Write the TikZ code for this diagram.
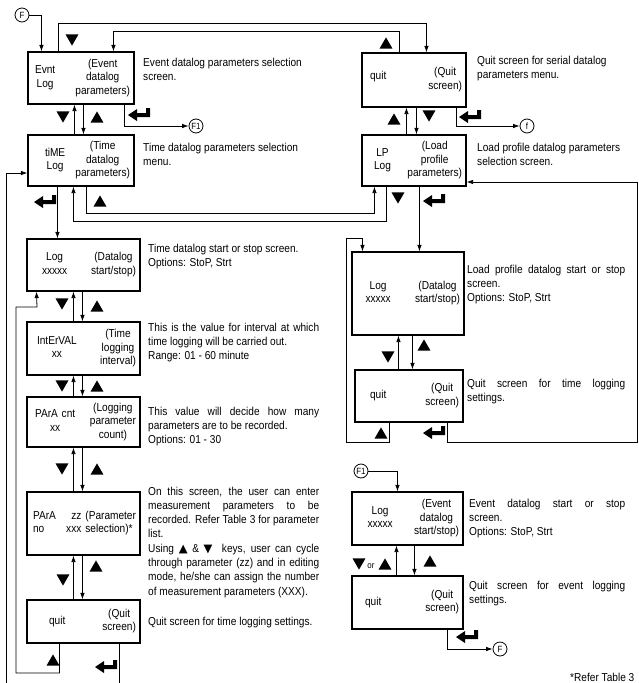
\documentclass[tikz,border=0pt]{standalone}
\usepackage{fontspec}
\setmainfont[FakeStretch=0.88]{Liberation Sans}
\newfontfamily\symfont{DejaVu Sans}
\usetikzlibrary{arrows.meta, shapes.geometric}
\renewcommand{\arraystretch}{0.94}
\newcommand{\scr}[4]{\hspace*{#1}\begin{tabular}{@{}c@{}}#2\end{tabular}\hfill\begin{tabular}{@{}c@{}}#3\end{tabular}\hspace*{#4}}

\tikzset{
  box/.style={draw, line width=1.1pt, inner xsep=4pt, inner ysep=0pt, text width=#1},
  desc/.style={anchor=base west, inner sep=0pt, text width=#1, align=justify},
  term/.style={draw, circle, line width=.8pt, inner sep=0pt, minimum size=14pt, font=\fontsize{9}{9}\selectfont},
  key/.style={regular polygon, regular polygon sides=3, fill, draw=none, inner sep=0pt, minimum size=15pt},
  kup/.style={key, yshift=-1.9pt},
  kdn/.style={key, shape border rotate=180, yshift=1.9pt},
  arr/.style={line width=.8pt, -{Latex[length=6.5pt,width=4.5pt]}},
  enterkey/.pic={\fill (-12,1) -- (-3,-5) -- (-3,-1) -- (6,-1) -- (6,-6) -- (10,-6) -- (10,3) -- (-3,3) -- (-3,7) -- cycle;}
}

\begin{document}
\begin{tikzpicture}[x=1pt, y=-1pt, font=\fontsize{11.5}{14.3}\selectfont]
\useasboundingbox (0,0) rectangle (638,683);

\node[box=98pt, minimum height=52pt] (evnt) at (81,78) {\scr{3pt}{Evnt\\Log}{(Event\\datalog\\parameters)}{0pt}};
\node[box=98pt, minimum height=51pt] (tim) at (81,160.5) {\scr{13pt}{tiME\\Log}{(Time\\datalog\\parameters)}{0pt}};
\node[box=96pt, minimum height=54pt] (quitA) at (414,80) {\scr{4pt}{\raisebox{6pt}{quit}}{(Quit\\screen)}{12pt}};
\node[box=96pt, minimum height=51pt] (lp) at (414,160.5) {\scr{8pt}{LP\\Log}{(Load\\profile\\parameters)}{0pt}};
\node[box=105pt, minimum height=52pt] (logT) at (83.5,265) {\scr{11pt}{Log\\xxxxx}{(Datalog\\start/stop)}{0pt}};
\node[box=105pt, minimum height=53pt] (intv) at (83.5,348.5) {\scr{6pt}{IntErVAL\\xx}{(Time\\logging\\interval)}{6pt}};
\node[box=105pt, minimum height=50pt] (pcnt) at (83.5,422) {\scr{4pt}{PArA cnt\\xx}{(Logging\\parameter\\count)}{0pt}};
\node[box=105pt, minimum height=63pt] (pno) at (83.5,523.5) {\hspace*{2pt}\begin{tabular}{@{}l@{}}PArA\\no\end{tabular}\hfill\begin{tabular}{@{}r@{}}zz\\xxx\end{tabular}\hspace{4pt}\begin{tabular}{@{}l@{}}(Parameter\\selection)*\end{tabular}};
\node[box=105pt, minimum height=43pt] (quitT) at (83.5,621.5) {\scr{18pt}{quit}{(Quit\\screen)}{10pt}};
\node[box=104pt, minimum height=83pt] (logL) at (408,293.5) {\scr{9.5pt}{Log\\xxxxx}{(Datalog\\start/stop)}{10pt}};
\node[box=100pt, minimum height=52pt] (quitL) at (409,396) {\scr{11pt}{quit}{(Quit\\screen)}{9pt}};
\node[box=103pt, minimum height=53pt] (logE) at (407.5,518.5) {\scr{11.5pt}{Log\\xxxxx}{(Event\\datalog\\start/stop)}{8pt}};
\node[box=103pt, minimum height=53pt] (quitE) at (407.5,602.5) {\scr{9pt}{quit}{(Quit\\screen)}{9pt}};

\node[term] (F) at (22,15) {F};
\node[term] (F1a) at (196,126) {F1};
\node[term] (fr) at (527,126) {f};
\node[term] (F1b) at (361,471) {F1};
\node[term] (Fb) at (500,649) {F};

\node[desc=200pt] (dEvnt) at (143,66) {Event datalog parameters selection\\screen.};
\node[desc=200pt] (dTim) at (143,151) {Time datalog parameters selection\\menu.};
\node[desc=160pt] (dQuitA) at (477,64) {Quit screen for serial datalog\\parameters menu.};
\node[desc=160pt] (dLp) at (477,151) {Load profile datalog parameters\\selection screen.};
\node[desc=171pt] (dLogT) at (148,252) {Time datalog start or stop screen.\\Options: StoP, Strt};
\node[desc=171pt] (dIntv) at (148,331) {This is the value for interval at which\linebreak time logging will be carried out.\\Range: 01 - 60 minute};
\node[desc=171pt] (dPcnt) at (148,415) {This value will decide how many\linebreak parameters are to be recorded.\\Options: 01 - 30};
\node[desc=171pt] (dPno) at (148,495) {On this screen, the user can enter\linebreak measurement parameters to be\linebreak recorded. Refer Table 3 for parameter\linebreak list.\\Using {\symfont ▲} \& {\symfont ▼}\ \ keys, user can cycle\linebreak through parameter (zz) and in editing\linebreak mode, he/she can assign the number\linebreak of measurement parameters (XXX).};
\node[desc=171pt] (dQuitT) at (148,625) {Quit screen for time logging settings.};
\node[desc=158pt] (dLogL) at (467,273) {Load profile datalog start or stop\linebreak screen.\\Options: StoP, Strt};
\node[desc=158pt] (dQuitL) at (467,387) {Quit screen for time logging\linebreak settings.};
\node[desc=156pt] (dLogE) at (469,507) {Event datalog start or stop\linebreak screen.\\Options: StoP, Strt};
\node[desc=156pt] (dQuitE) at (469,589) {Quit screen for event logging\linebreak settings.};
\node[anchor=base west, inner sep=0pt] (note) at (570,681) {*Refer Table 3};

\draw[arr] (F) -| ([xshift=14pt]evnt.north west);
\draw[arr] ([xshift=31pt]evnt.north west) -- ++(0,-28) -| ([xshift=65pt]quitA.north west);
\draw[arr] ([xshift=38pt]quitA.north west) -- ++(0,-21) -| ([xshift=86pt]evnt.north west);
\draw[arr] ([xshift=47pt]tim.north west) -- ([xshift=47pt]evnt.south west);
\draw[arr] ([xshift=56pt]evnt.south west) -- ([xshift=56pt]tim.north west);
\draw[arr] ([xshift=97pt]evnt.south west) |- (F1a);
\draw[arr] ([xshift=45pt]lp.north west) -- ([xshift=45pt]quitA.south west);
\draw[arr] ([xshift=55pt]quitA.south west) -- ([xshift=55pt]lp.north west);
\draw[arr] ([xshift=95pt]quitA.south west) |- (fr);
\draw[arr] ([xshift=59pt]tim.south west) -- ++(0,27) -| ([xshift=13pt]lp.south west);
\draw[arr] ([xshift=25pt]lp.south west) -- ++(0,35) -| ([xshift=46pt]tim.south west);
\draw[arr] ([xshift=30pt]tim.south west) -- ([xshift=31pt]logT.north west);
\draw[arr] ([xshift=58pt]lp.south west) -- ([xshift=68pt]logL.north west);
\draw[arr] ([xshift=47pt]intv.north west) -- ([xshift=47pt]logT.south west);
\draw[arr] ([xshift=56pt]logT.south west) -- ([xshift=56pt]intv.north west);
\draw[arr] ([xshift=47pt]pcnt.north west) -- ([xshift=47pt]intv.south west);
\draw[arr] ([xshift=56pt]intv.south west) -- ([xshift=56pt]pcnt.north west);
\draw[arr] ([xshift=47pt]pno.north west) -- ([xshift=47pt]pcnt.south west);
\draw[arr] ([xshift=56pt]pcnt.south west) -- ([xshift=56pt]pno.north west);
\draw[arr] ([xshift=47pt]quitT.north west) -- ([xshift=47pt]pno.south west);
\draw[arr] ([xshift=56pt]pno.south west) -- ([xshift=56pt]quitT.north west);
\draw[arr] ([xshift=33pt]quitT.south west) |- (16,673) |- (37,307) -- ([xshift=10pt]logT.south west);
\draw[arr] ([xshift=93pt]quitT.south west) -- ++(0,60) -| (6,173) -- ([yshift=-12.5pt]tim.west);
\draw[arr] ([xshift=44pt]quitL.north west) -- ([xshift=47pt]logL.south west);
\draw[arr] ([xshift=61pt]logL.south west) -- ([xshift=58pt]quitL.north west);
\draw[arr] ([xshift=35pt]quitL.south west) -- ++(0,20) -| (346,238) -| ([xshift=11pt]logL.north west);
\draw[arr] ([xshift=93pt]quitL.south west) -- ++(0,20) -| (637,182) -- ([yshift=-21.5pt]lp.east);
\draw[arr] (F1b) -| ([xshift=46pt]logE.north west);
\draw[arr] ([xshift=45pt]quitE.north west) -- ([xshift=45pt]logE.south west);
\draw[arr] ([xshift=63pt]logE.south west) -- ([xshift=63pt]quitE.north west);
\draw[arr] ([xshift=96pt]quitE.south west) |- (Fb);

\node[kdn] (k1) at (72,40) {};
\node[kup] (k2) at (386,43) {};
\node[kdn] (k3) at (63,117) {};
\node[kup] (k4) at (97,117) {};
\node[kup] (k5) at (394,119) {};
\node[kdn] (k6) at (429,116) {};
\node[kup] (k7) at (100,201) {};
\node[kdn] (k8) at (398,198) {};
\node[kdn] (k9) at (62,304) {};
\node[kup] (k10) at (97,306) {};
\node[kdn] (k11) at (62,386) {};
\node[kup] (k12) at (97,386) {};
\node[kdn] (k13) at (62,469) {};
\node[kup] (k14) at (97,469) {};
\node[kdn] (k15) at (63,580) {};
\node[kup] (k16) at (96,566) {};
\node[kup] (k17) at (53,660) {};
\node[kdn] (k18) at (388,357) {};
\node[kup] (k19) at (424,345) {};
\node[kup] (k20) at (381,433) {};
\node[kdn] (k21) at (359,564) {};
\node[font=\fontsize{9}{9}\selectfont, inner sep=0pt] (or) at (371,566) {or};
\node[kup] (k22) at (385,564) {};
\node[kup] (k23) at (430,561) {};

\pic (e1) at (140,114) {enterkey};
\pic (e2) at (471,116) {enterkey};
\pic (e3) at (46,201) {enterkey};
\pic (e4) at (435,200) {enterkey};
\pic (e5) at (107,666) {enterkey};
\pic (e6) at (435,432) {enterkey};
\pic (e7) at (468,636) {enterkey};
\end{tikzpicture}
\end{document}
